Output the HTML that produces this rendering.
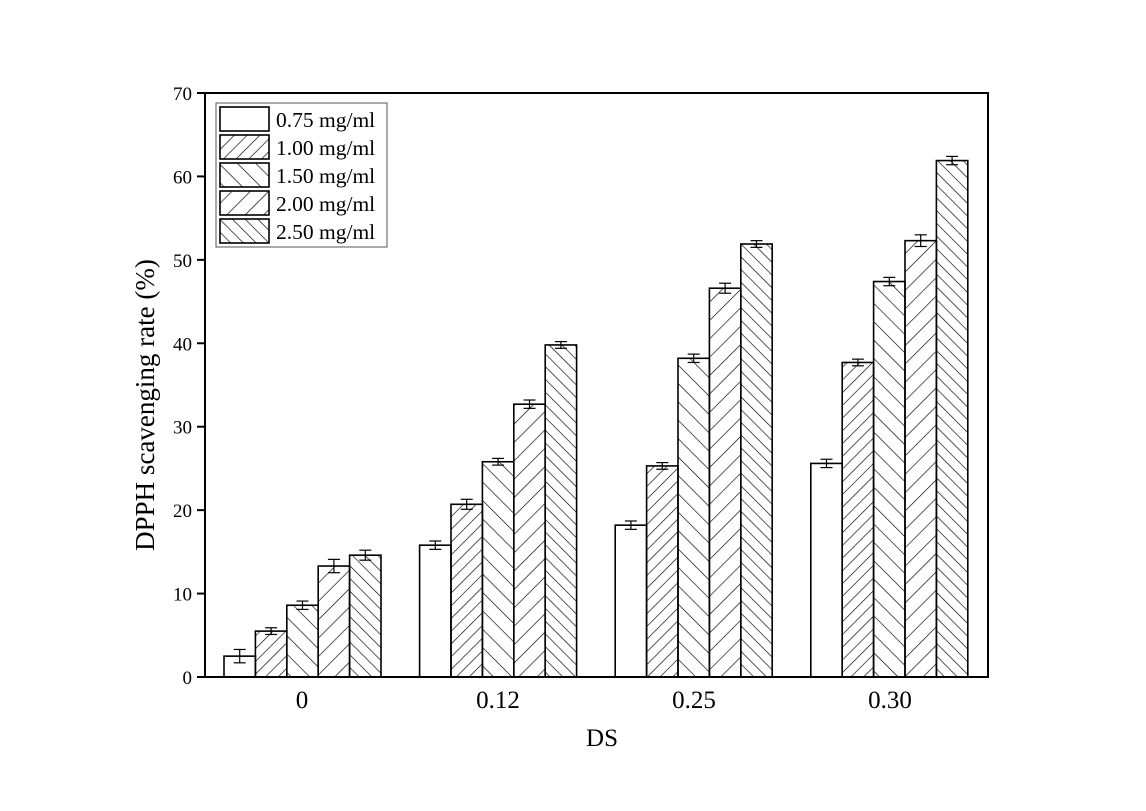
<!DOCTYPE html>
<html><head><style>body{margin:0;background:#fff}svg{display:block}</style></head><body>
<svg width="1146" height="811" xmlns="http://www.w3.org/2000/svg" font-family="Liberation Serif, serif">
<defs>
<pattern id="p1" patternUnits="userSpaceOnUse" width="9" height="9" patternTransform="rotate(45)"><line x1="0" y1="0" x2="0" y2="9" stroke="#000" stroke-width="1.3"/></pattern>
<pattern id="p2" patternUnits="userSpaceOnUse" width="13" height="13" patternTransform="rotate(-45)"><line x1="0" y1="0" x2="0" y2="13" stroke="#000" stroke-width="1.3"/></pattern>
<pattern id="p3" patternUnits="userSpaceOnUse" width="13" height="13" patternTransform="rotate(45)"><line x1="0" y1="0" x2="0" y2="13" stroke="#000" stroke-width="1.3"/></pattern>
<pattern id="p4" patternUnits="userSpaceOnUse" width="9" height="9" patternTransform="rotate(-45)"><line x1="0" y1="0" x2="0" y2="9" stroke="#000" stroke-width="1.3"/></pattern>
</defs>
<g id="bars" stroke="#000" stroke-width="1.6"></g>
<rect x="205" y="93" width="783" height="584" fill="none" stroke="#000" stroke-width="2"/>
<g id="ticks" stroke="#000" stroke-width="2"></g>
<g font-size="19" text-anchor="end" id="yl"></g>
<g font-size="25" text-anchor="middle">
<text x="302" y="708">0</text><text x="498" y="708">0.12</text><text x="694" y="708">0.25</text><text x="890" y="708">0.30</text>
<text x="602" y="746">DS</text>
<text transform="translate(154,405) rotate(-90)" font-size="27">DPPH scavenging rate (%)</text>
</g>
<rect x="216" y="103" width="171" height="144" fill="#fff" stroke="#555" stroke-width="1"/>
<g stroke="#000" stroke-width="1.6">
<rect x="220" y="107" width="49" height="24" fill="#fff"/>
<rect x="220" y="135" width="49" height="24" fill="url(#p1)"/>
<rect x="220" y="163" width="49" height="24" fill="url(#p2)"/>
<rect x="220" y="191" width="49" height="24" fill="url(#p3)"/>
<rect x="220" y="219" width="49" height="24" fill="url(#p4)"/>
</g>
<g font-size="21.5">
<text x="276" y="127">0.75 mg/ml</text><text x="276" y="155">1.00 mg/ml</text><text x="276" y="183">1.50 mg/ml</text><text x="276" y="211">2.00 mg/ml</text><text x="276" y="239">2.50 mg/ml</text>
</g>
<script>
var ns="http://www.w3.org/2000/svg";
function el(p,t,a){var e=document.createElementNS(ns,t);for(var k in a)e.setAttribute(k,a[k]);p.appendChild(e);return e;}
var Y=function(v){return 677-v*8.343;};
var data=[[2.5,5.5,8.6,13.3,14.6],[15.8,20.7,25.8,32.7,39.8],[18.2,25.3,38.2,46.6,51.9],[25.6,37.7,47.4,52.3,61.9]];
var err=[[0.8,0.4,0.5,0.8,0.6],[0.5,0.6,0.4,0.5,0.4],[0.5,0.4,0.5,0.6,0.4],[0.5,0.4,0.5,0.7,0.5]];
var fills=["#fff","url(#p1)","url(#p2)","url(#p3)","url(#p4)"];
var g=document.getElementById("bars");var bw=31.4;
var starts=[224,419.6,615.2,810.8];
for(var i=0;i<4;i++)for(var j=0;j<5;j++){var x=starts[i]+j*bw,v=data[i][j],y=Y(v);
el(g,"rect",{x:x,y:y,width:bw,height:677-y,fill:fills[j]});
var cx=x+bw/2,e=err[i][j]*8.343;
el(g,"line",{x1:cx,x2:cx,y1:y-e,y2:y+e,"stroke-width":1.2});
el(g,"line",{x1:cx-6,x2:cx+6,y1:y-e,y2:y-e,"stroke-width":1.2});
el(g,"line",{x1:cx-6,x2:cx+6,y1:y+e,y2:y+e,"stroke-width":1.2});}
var t=document.getElementById("ticks"),yl=document.getElementById("yl");
for(var v=0;v<=70;v+=10){var y=Y(v);el(t,"line",{x1:197,x2:205,y1:y,y2:y});
var tx=el(yl,"text",{x:192,y:y+7});tx.textContent=v;}
</script>
</svg>
</body></html>
